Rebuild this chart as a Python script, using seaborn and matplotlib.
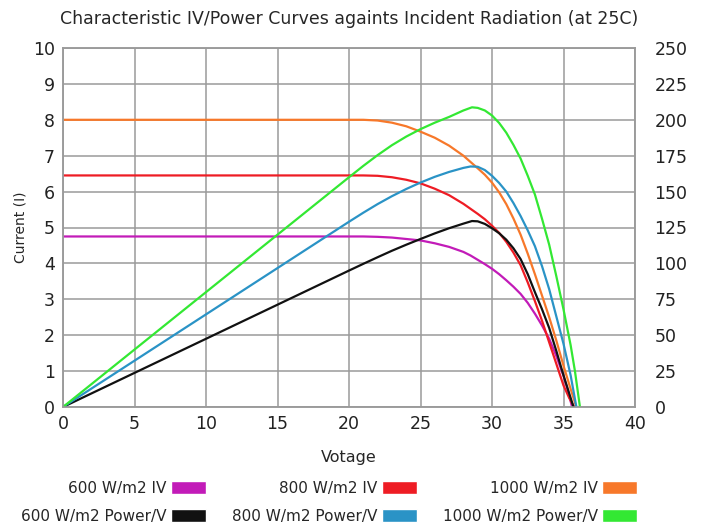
import numpy as np
import pandas as pd
import matplotlib
matplotlib.use("Agg")
import matplotlib.pyplot as plt
import seaborn as sns
from matplotlib.patches import Patch

# ---- data ----
# IV curves (current in A, left axis)
v_600_iv = [0, 5, 10, 15, 20, 21, 22, 23, 24, 25, 26, 27, 28, 28.5, 29, 29.5, 30, 30.5, 31, 31.5, 32, 32.5,
            33, 33.5, 34, 34.5, 35, 35.3, 35.6]
i_600_iv = [4.75, 4.75, 4.75, 4.75, 4.75, 4.75, 4.74, 4.72, 4.68, 4.64, 4.56, 4.46, 4.32, 4.22, 4.1, 3.98, 3.85,
            3.7, 3.53, 3.35, 3.15, 2.9, 2.6, 2.27, 1.9, 1.42, 0.87, 0.47, 0]

v_800_iv = [0, 5, 10, 15, 20, 21, 22, 23, 24, 25, 26, 27, 28, 29, 29.5, 30, 30.5, 31, 31.5, 32, 32.5,
            33, 33.5, 34, 34.5, 35, 35.4, 35.75]
i_800_iv = [6.45, 6.45, 6.45, 6.45, 6.45, 6.45, 6.44, 6.4, 6.33, 6.23, 6.08, 5.9, 5.66, 5.38, 5.23, 5.05, 4.85,
            4.6, 4.3, 3.95, 3.47, 2.95, 2.4, 1.8, 1.2, 0.6, 0.25, 0]

v_1000_iv = [0, 5, 10, 15, 20, 21, 22, 23, 24, 25, 26, 27, 28, 29, 29.5, 30, 30.5, 31, 31.5, 32, 32.5,
             33, 33.5, 34, 34.5, 35, 35.5, 35.9]
i_1000_iv = [8.0, 8.0, 8.0, 8.0, 8.0, 8.0, 7.98, 7.92, 7.82, 7.67, 7.5, 7.28, 7.0, 6.65, 6.47, 6.25, 5.98,
             5.65, 5.25, 4.8, 4.27, 3.7, 3.1, 2.5, 1.85, 1.15, 0.5, 0]

# power curves (W, right axis)
v_600_p = [0, 5, 10, 15, 20, 21, 22, 23, 24, 25, 26, 27, 28, 28.6, 29, 29.5, 30, 30.5, 31, 31.5, 32, 32.5,
           33, 33.5, 34, 34.5, 35, 35.35, 35.7]
p_600 = [0, 23.75, 47.5, 71.25, 95, 99.7, 104.3, 108.8, 113, 117, 120.9, 124.5, 127.7, 129.5, 129.3, 127.5,
         124.5, 121, 116.5, 110.5, 103, 92.5, 80, 68, 55, 39, 22, 11, 0]

v_800_p = [0, 5, 10, 15, 20, 21, 22, 23, 24, 25, 26, 27, 28, 28.5, 29, 29.5, 30, 30.5, 31, 31.5, 32, 32.5,
           33, 33.5, 34, 34.5, 35, 35.5, 35.9]
p_800 = [0, 32.25, 64.5, 96.75, 129, 135.3, 141.3, 146.8, 151.8, 156.3, 160.3, 163.7, 166.5, 167.5, 167.3,
         165, 161, 156, 150, 142, 133, 123, 112, 98, 82, 63, 44, 22, 0]

v_1000_p = [0, 5, 10, 15, 20, 21, 22, 23, 24, 25, 26, 27, 28, 28.6, 29, 29.5, 30, 30.5, 31, 31.5, 32, 32.5,
            33, 33.5, 34, 34.5, 35, 35.5, 35.8, 36.15]
p_1000 = [0, 40, 80, 120, 160, 167.9, 175.4, 182.3, 188.3, 193.5, 198, 202, 206.5, 208.7, 208.3, 206.5,
          203, 197.8, 191, 182.5, 173, 161, 148, 131, 113, 91, 68, 43, 25, 0]

labels_iv = ["600 W/m2 IV", "800 W/m2 IV", "1000 W/m2 IV"]
labels_p = ["600 W/m2 Power/V", "800 W/m2 Power/V", "1000 W/m2 Power/V"]
colors_iv = ["#c21bb8", "#ee1c24", "#f7782a"]
colors_p = ["#111111", "#2a93c6", "#33e833"]

iv_df = pd.concat([
    pd.DataFrame({"V": v, "I": i, "series": lab})
    for v, i, lab in zip([v_600_iv, v_800_iv, v_1000_iv], [i_600_iv, i_800_iv, i_1000_iv], labels_iv)
])
p_df = pd.concat([
    pd.DataFrame({"V": v, "P": p, "series": lab})
    for v, p, lab in zip([v_600_p, v_800_p, v_1000_p], [p_600, p_800, p_1000], labels_p)
])

sns.set_style("white")
plt.rcParams["font.family"] = ["DejaVu Sans"]

fig = plt.figure(figsize=(7.07, 5.25), dpi=100)
ax = fig.add_axes([63 / 707, 1 - 407 / 525, (635 - 63) / 707, (407 - 48) / 525])
ax2 = ax.twinx()

sns.lineplot(data=iv_df, x="V", y="I", hue="series", palette=dict(zip(labels_iv, colors_iv)),
             estimator=None, sort=False, linewidth=1.6, ax=ax, legend=False)
sns.lineplot(data=p_df, x="V", y="P", hue="series", palette=dict(zip(labels_p, colors_p)),
             estimator=None, sort=False, linewidth=1.6, ax=ax2, legend=False)

ax.set_xlim(0, 40)
ax.set_ylim(0, 10)
ax2.set_ylim(0, 250)
ax.set_xticks(np.arange(0, 41, 5))
ax.set_yticks(np.arange(0, 11, 1))
ax2.set_yticks(np.arange(0, 251, 25))
ax.grid(True, color="#9a9a9a", linewidth=1.1)
ax.tick_params(axis="both", length=0, labelsize=12.5, colors="#222222", pad=6)
ax2.tick_params(axis="y", length=0, labelsize=12.5, colors="#222222", pad=14)
for a in (ax, ax2):
    for s in a.spines.values():
        s.set_color("#9a9a9a")
        s.set_linewidth(1.1)

ax.set_xlabel("Votage", fontsize=11.5, labelpad=12)
ax.set_ylabel("Current (I)", fontsize=10, labelpad=4)
ax2.set_ylabel("")
ax.set_title("Characteristic IV/Power Curves againts Incident Radiation (at 25C)", fontsize=12.5, pad=17)

handles = []
for c_iv, c_p, l_iv, l_p in zip(colors_iv, colors_p, labels_iv, labels_p):
    handles.append(Patch(facecolor=c_iv, label=l_iv))
    handles.append(Patch(facecolor=c_p, label=l_p))
fig.legend(handles=handles, loc="center", bbox_to_anchor=(329 / 707, 1 - 502.5 / 525), ncol=3,
           frameon=False, fontsize=11, markerfirst=False, handlelength=2.3, handleheight=0.9,
           handletextpad=0.3, columnspacing=1.7, labelspacing=0.85, borderpad=0)

fig.savefig("out.png", dpi=100)
